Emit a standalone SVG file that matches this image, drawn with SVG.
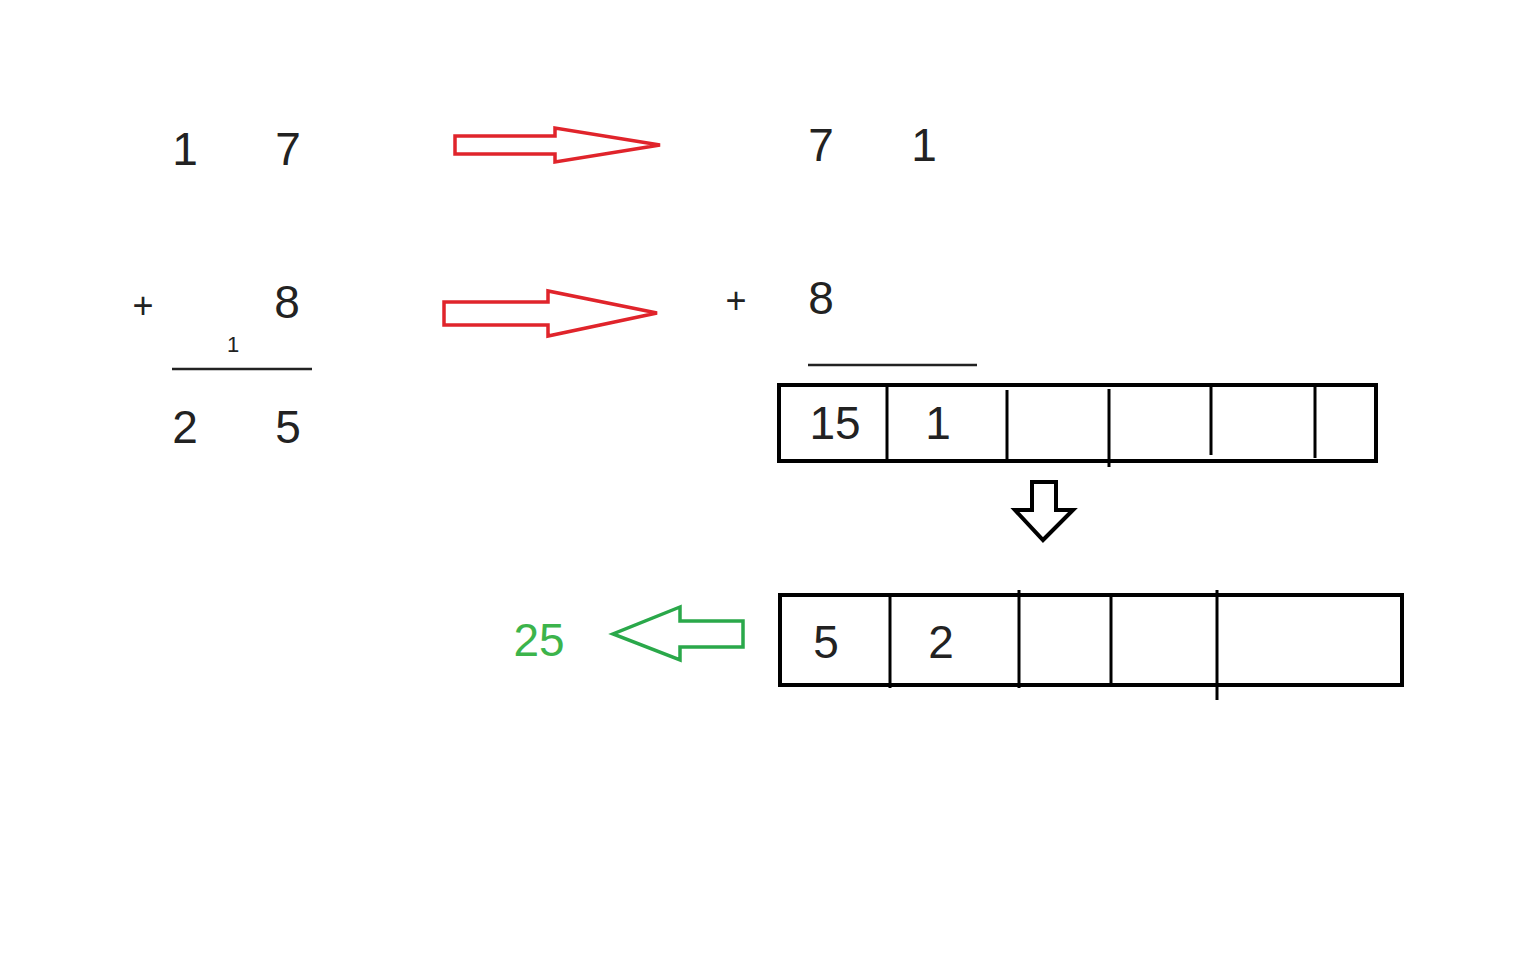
<svg xmlns="http://www.w3.org/2000/svg" width="1536" height="960" viewBox="0 0 1536 960">
<style>
text{font-family:"Liberation Sans",Arial,sans-serif;fill:#222;text-anchor:middle}
.d{font-size:46px}
.box{fill:none;stroke:#000;stroke-width:4}
.ln{stroke:#000;stroke-width:3}
.red{fill:#fff;stroke:#e0242b;stroke-width:3.5}
</style>
<rect width="1536" height="960" fill="#fff"/>
<g id="left-sum">
<text class="d" x="185" y="165">1</text>
<text class="d" x="288" y="165">7</text>
<text x="143" y="318" style="font-size:36px">+</text>
<text class="d" x="287" y="318">8</text>
<text x="233" y="352" style="font-size:22px">1</text>
<line x1="172" y1="369" x2="312" y2="369" stroke="#222" stroke-width="2.5"/>
<text class="d" x="185" y="443">2</text>
<text class="d" x="288" y="443">5</text>
</g>
<g id="right-sum">
<text class="d" x="821" y="161">7</text>
<text class="d" x="924" y="161">1</text>
<text x="736" y="313" style="font-size:36px">+</text>
<text class="d" x="821" y="314">8</text>
<line x1="808" y1="365" x2="977" y2="365" stroke="#222" stroke-width="2.5"/>
</g>
<g id="box1">
<rect class="box" x="779" y="385" width="597" height="76"/>
<line class="ln" x1="887" y1="385" x2="887" y2="461"/>
<line class="ln" x1="1007" y1="390" x2="1007" y2="461"/>
<line class="ln" x1="1109" y1="389" x2="1109" y2="467"/>
<line class="ln" x1="1211" y1="385" x2="1211" y2="455"/>
<line class="ln" x1="1315" y1="385" x2="1315" y2="458"/>
<text class="d" x="835" y="439">15</text>
<text class="d" x="938" y="439">1</text>
</g>
<g id="box2">
<rect class="box" x="780" y="595" width="622" height="90"/>
<line class="ln" x1="890" y1="595" x2="890" y2="688"/>
<line class="ln" x1="1019" y1="590" x2="1019" y2="688"/>
<line class="ln" x1="1111" y1="595" x2="1111" y2="685"/>
<line class="ln" x1="1217" y1="590" x2="1217" y2="700"/>
<text class="d" x="826" y="658">5</text>
<text class="d" x="941" y="658">2</text>
</g>
<g id="result"><text class="d" x="539" y="656" style="fill:#3cb44b">25</text></g>
<g id="connectors">
<polygon class="red" points="455,136 555,136 555,128 660,145 555,162 555,154 455,154"/>
<polygon class="red" points="444,302 548,302 548,291 657,313 548,336 548,325 444,325"/>
<polygon points="743,621 680,621 680,607 613,634 680,660 680,647 743,647" fill="#fff" stroke="#2aa84a" stroke-width="3.5"/>
<polygon points="1032,482 1056,482 1056,510 1073,510 1043,540 1015,510 1032,510" fill="#fff" stroke="#000" stroke-width="4"/>
</g>
</svg>
